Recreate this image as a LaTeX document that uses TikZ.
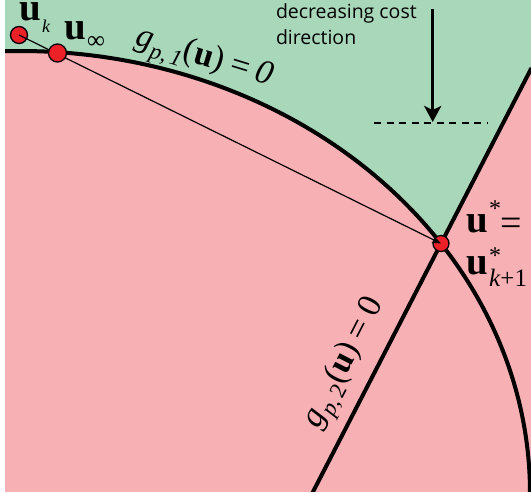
\documentclass[tikz,border=0pt]{standalone}
\usepackage{fontspec}
\setmainfont{Liberation Serif}
\newfontfamily\labelsans{Open Sans}
\usetikzlibrary{arrows.meta}
\definecolor{feasgreen}{RGB}{168,216,185}
\definecolor{infpink}{RGB}{247,176,179}
\definecolor{dotred}{RGB}{236,33,39}
\newcommand{\gsub}[1]{\raisebox{-8pt}{\fontsize{23}{23}\selectfont #1}}
\begin{document}
\begin{tikzpicture}[x=1pt,y=1pt,
  txt/.style={inner sep=0pt, outer sep=0pt},
  bigu/.style={txt, font=\fontsize{39}{39}\selectfont\bfseries},
  startxt/.style={txt, font=\fontsize{24}{24}\selectfont},
  constraint/.style={line width=4pt, black},
  dotmark/.style={circle, fill=dotred, draw=black, line width=1.3pt, inner sep=0pt, minimum size=17pt},
  glabel/.style={txt, font=\fontsize{34}{34}\selectfont}]
\useasboundingbox (0,0) rectangle (531,493);
\begin{scope}
  \clip (5,1) rectangle (531,493);
  \fill[infpink] (5,1) rectangle (531,493);
  \fill[feasgreen] (5,493) -- (4.96,441.8)
     arc[start angle=91.69, end angle=34.36, x radius=510, y radius=442]
     -- (531.5,425) -- (531.5,493) -- cycle;
  \draw[constraint] (4.96,441.8)
     arc[start angle=91.69, end angle=0, x radius=510, y radius=442];
  \draw[constraint] (312.4,0) -- (531.5,425);
\end{scope}
% cost direction
\draw[line width=1.5pt, dash pattern=on 7pt off 5.5pt] (374,370) -- (487,370);
\coordinate (arrtop) at (432.7,484);
\coordinate (arrtip) at (432.7,371);
\draw[line width=3pt, -{Stealth[length=16pt,width=17pt,inset=4pt]}] (arrtop) -- (arrtip);
\node[txt, anchor=base west, align=left, font=\fontsize{19.5}{26.5}\selectfont\labelsans] (costtxt) at (276,448) {decreasing cost\\direction};
% points
\node[dotmark] (uk) at (19,458) {};
\node[dotmark, minimum size=16pt] (ustar) at (441,249.5) {};
\draw[line width=1.2pt, -{Stealth[length=9pt,width=7pt]}] (uk.center) -- (ustar.center);
\node[dotmark, minimum size=18pt] (uinf) at (57.5,440) {};
% labels
\node[bigu, anchor=base west] (ukU) at (19.5,472) {u};
\node[txt, anchor=base west, font=\fontsize{18}{18}\selectfont\itshape] (ukK) at (42,460) {k};
\node[bigu, anchor=base west] (uinfU) at (64.5,453) {u};
\node[txt, anchor=base west, font=\fontsize{25}{25}\selectfont] (uinfS) at (87,444) {∞};
\node[glabel, rotate=-17] (g1) at (203.5,433) {\textit{g}\gsub{\textit{p},\,\textit{1}}(\textbf{u})\hspace{7pt}=\hspace{7pt}\textit{0}};
\node[glabel, rotate=62.7] (g2) at (346,129) {\textit{g}\gsub{\textit{p},\,2}(\textbf{u})\hspace{7pt}=\hspace{7pt}0};
\node[bigu, anchor=base west] (usU) at (466,260) {u};
\node[startxt, anchor=base] (usS) at (495,276.5) {*};
\node[txt, anchor=base west, font=\fontsize{38}{38}\selectfont] (usEq) at (500.5,257) {=};
\node[bigu, anchor=base west] (uk1U) at (466,218) {u};
\node[startxt, anchor=base] (uk1S) at (495,229) {*};
\node[txt, anchor=base west, font=\fontsize{25}{25}\selectfont] (uk1K) at (489,206) {\textit{k}+1};
\end{tikzpicture}
\end{document}
